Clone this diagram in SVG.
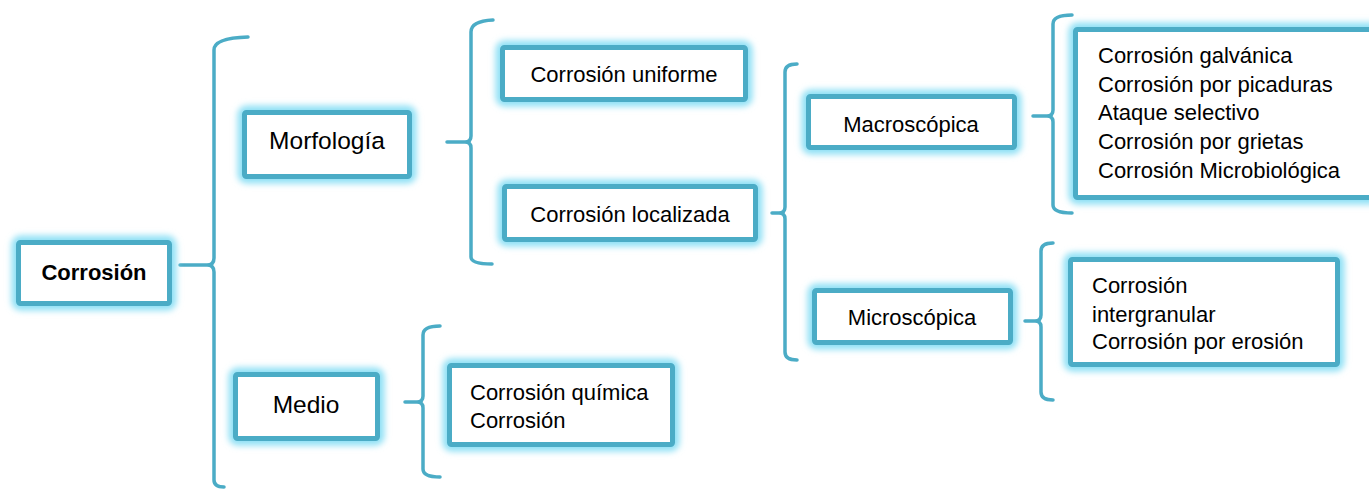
<svg xmlns="http://www.w3.org/2000/svg" width="1369" height="489" viewBox="0 0 1369 489">
  <defs>
    <filter id="glow" x="-20%" y="-40%" width="140%" height="180%">
      <feGaussianBlur stdDeviation="3.2"/>
    </filter>
    <style>
      .halo { fill: none; stroke: #8fe0f5; stroke-width: 14; filter: url(#glow); }
      .box { fill: #ffffff; stroke: #4bacc6; stroke-width: 5; }
      .brace { fill: none; stroke: #4bacc6; stroke-width: 3.5; stroke-linecap: round; stroke-linejoin: round; }
      .t { font-family: "Liberation Sans", Arial, sans-serif; font-size: 22px; fill: #000000; }
      .tc { text-anchor: middle; }
      .big { font-size: 24.5px; }
      .bold { font-weight: bold; font-size: 22px; }
    </style>
  </defs>

  <rect width="1369" height="489" fill="#ffffff"/>

  <!-- braces joining each level to the next -->
  <g id="connectors">
    <path class="brace" d="M248 37 Q214 38 214 50 L214 258 Q214 265 207 265 L180 265 M207 265 Q214 265 214 272 L214 480 Q214 487 224 487"/>
    <path class="brace" d="M493 20 Q471 21 471 32 L471 136 Q471 142 465 142 L447 142 M465 142 Q471 142 471 148 L471 257 Q471 264 492 264"/>
    <path class="brace" d="M797 64 Q785 64 785 72 L785 207 Q785 213 779 213 L772 213 M779 213 Q785 213 785 219 L785 352 Q785 360 797 360"/>
    <path class="brace" d="M1072 15 Q1053 15 1053 24 L1053 110 Q1053 116 1047 116 L1033 116 M1047 116 Q1053 116 1053 122 L1053 205 Q1053 213 1072 213"/>
    <path class="brace" d="M1053 243 Q1041 243 1041 251 L1041 315 Q1041 321 1035 321 L1025 321 M1035 321 Q1041 321 1041 327 L1041 392 Q1041 400 1053 400"/>
    <path class="brace" d="M440 326 Q423 326 423 335 L423 396 Q423 402 417 402 L405 402 M417 402 Q423 402 423 408 L423 469 Q423 477 440 477"/>
  </g>

  <g id="node-corrosion">
    <rect class="halo" x="18.5" y="242.5" width="151" height="61" rx="2"/>
    <rect class="box" x="18.5" y="242.5" width="151" height="61" rx="2"/>
    <text class="t tc bold" x="94" y="280">Corrosión</text>
  </g>

  <g id="node-morfologia">
    <rect class="halo" x="244.5" y="112.5" width="165" height="64" rx="2"/>
    <rect class="box" x="244.5" y="112.5" width="165" height="64" rx="2"/>
    <text class="t tc big" x="327" y="149">Morfología</text>
  </g>

  <g id="node-medio">
    <rect class="halo" x="235.5" y="374.5" width="142" height="64" rx="2"/>
    <rect class="box" x="235.5" y="374.5" width="142" height="64" rx="2"/>
    <text class="t tc big" x="306" y="413">Medio</text>
  </g>

  <g id="node-uniforme">
    <rect class="halo" x="502.5" y="47.5" width="243" height="52" rx="2"/>
    <rect class="box" x="502.5" y="47.5" width="243" height="52" rx="2"/>
    <text class="t tc" x="624" y="82">Corrosión uniforme</text>
  </g>

  <g id="node-localizada">
    <rect class="halo" x="504.5" y="186.5" width="251" height="53" rx="2"/>
    <rect class="box" x="504.5" y="186.5" width="251" height="53" rx="2"/>
    <text class="t tc" x="630" y="222">Corrosión localizada</text>
  </g>

  <g id="node-macroscopica">
    <rect class="halo" x="808.5" y="96.5" width="206" height="51" rx="2"/>
    <rect class="box" x="808.5" y="96.5" width="206" height="51" rx="2"/>
    <text class="t tc" x="911" y="132">Macroscópica</text>
  </g>

  <g id="node-microscopica">
    <rect class="halo" x="814.5" y="290.5" width="196" height="52" rx="2"/>
    <rect class="box" x="814.5" y="290.5" width="196" height="52" rx="2"/>
    <text class="t tc" x="912" y="325">Microscópica</text>
  </g>

  <g id="node-macro-tipos">
    <rect class="halo" x="1075.5" y="29.5" width="310" height="168" rx="2"/>
    <rect class="box" x="1075.5" y="29.5" width="310" height="168" rx="2"/>
    <text class="t" x="1098" y="63">Corrosión galvánica</text>
    <text class="t" x="1098" y="92">Corrosión por picaduras</text>
    <text class="t" x="1098" y="120">Ataque selectivo</text>
    <text class="t" x="1098" y="149">Corrosión por grietas</text>
    <text class="t" x="1098" y="178">Corrosión Microbiológica</text>
  </g>

  <g id="node-micro-tipos">
    <rect class="halo" x="1070.5" y="259.5" width="267" height="105" rx="2"/>
    <rect class="box" x="1070.5" y="259.5" width="267" height="105" rx="2"/>
    <text class="t" x="1092" y="293">Corrosión</text>
    <text class="t" x="1092" y="322">intergranular</text>
    <text class="t" x="1092" y="349">Corrosión por erosión</text>
  </g>

  <g id="node-medio-tipos">
    <rect class="halo" x="449.5" y="365.5" width="223" height="79" rx="2"/>
    <rect class="box" x="449.5" y="365.5" width="223" height="79" rx="2"/>
    <text class="t" x="470" y="400">Corrosión química</text>
    <text class="t" x="470" y="428">Corrosión</text>
  </g>
</svg>
